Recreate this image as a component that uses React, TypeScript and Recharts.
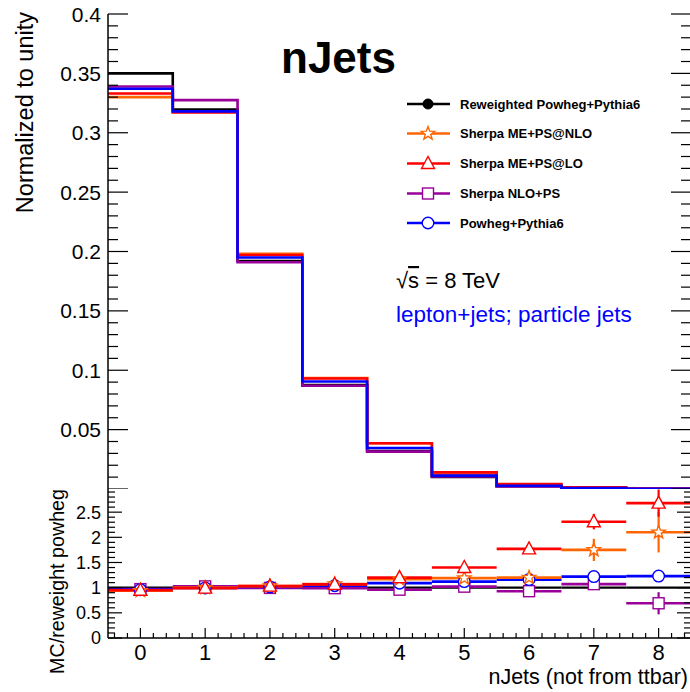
import React from "react";
import { ComposedChart, Line, Scatter, ErrorBar, XAxis, YAxis } from "recharts";

const FONT = "'Liberation Sans', Arial, Helvetica, sans-serif";

const C_REW = "#000000";
const C_NLO = "#ff6600";
const C_LO = "#ff0000";
const C_NLOPS = "#990099";
const C_POW = "#0000ff";

// jet multiplicity bins: centres and edges
const nJets = [0, 1, 2, 3, 4, 5, 6, 7, 8];
const binEdges = [-0.5, 0.5, 1.5, 2.5, 3.5, 4.5, 5.5, 6.5, 7.5, 8.5];
const BIN_HALF = 0.5;

// normalised distributions
const reweighted = [0.35, 0.3195, 0.192, 0.0875, 0.032, 0.0102, 0.0024, 0.0006, 0.00015];
const sherpaMePsNlo = [0.33, 0.318, 0.198, 0.0935, 0.0385, 0.0122, 0.0029, 0.0011, 0.0003];
const sherpaMePsLo = [0.333, 0.317, 0.197, 0.093, 0.0385, 0.014, 0.0042, 0.0014, 0.0004];
const sherpaNloPs = [0.339, 0.3275, 0.191, 0.087, 0.0315, 0.0105, 0.0022, 0.0006, 0.0001];
const powhegPythia = [0.337, 0.318, 0.195, 0.0905, 0.0345, 0.0113, 0.0028, 0.0007, 0.0002];

// MC / reweighted powheg with stat. errors
const ratioMePsNlo = [0.94, 1.0, 1.03, 1.07, 1.17, 1.19, 1.2, 1.75, 2.1];
const errMePsNlo = [0.01, 0.01, 0.01, 0.02, 0.03, 0.05, 0.1, 0.22, 0.4];
const ratioMePsLo = [0.95, 0.99, 1.03, 1.065, 1.2, 1.4, 1.77, 2.31, 2.68];
const errMePsLo = [0.01, 0.01, 0.01, 0.02, 0.04, 0.05, 0.06, 0.15, 0.27];
const ratioNloPs = [0.97, 1.025, 0.995, 0.99, 0.96, 1.02, 0.93, 1.07, 0.69];
const errNloPs = [0.01, 0.01, 0.01, 0.02, 0.03, 0.05, 0.07, 0.1, 0.22];
const ratioPowheg = [0.96, 0.995, 1.015, 1.04, 1.09, 1.12, 1.16, 1.22, 1.23];
const errPowheg = [0.005, 0.005, 0.01, 0.01, 0.02, 0.03, 0.04, 0.05, 0.06];

const histRows = binEdges.map((x, i) => {
  const k = Math.min(i, nJets.length - 1);
  return { x, rew: reweighted[k], nlo: sherpaMePsNlo[k], lo: sherpaMePsLo[k], nlops: sherpaNloPs[k], pow: powhegPythia[k] };
});

const ratioRows = nJets.map((x, i) => ({
  x,
  ex: BIN_HALF,
  one: 1,
  nlo: ratioMePsNlo[i],
  nloErr: errMePsNlo[i],
  lo: ratioMePsLo[i],
  loErr: errMePsLo[i],
  nlops: ratioNloPs[i],
  nlopsErr: errNloPs[i],
  pow: ratioPowheg[i],
  powErr: errPowheg[i],
}));

const X_DOMAIN: [number, number] = [-0.5, 8.5];
const TOP_DOMAIN: [number, number] = [0, 0.4];
const RATIO_DOMAIN: [number, number] = [0, 2.96];

// tick positions (major + minor), ROOT style
const xTicks = Array.from({ length: 45 }, (_, i) => Math.round((-0.4 + 0.2 * i) * 10) / 10);
const yTicksTop = Array.from({ length: 41 }, (_, i) => i / 100);
const yTicksRatio = Array.from({ length: 30 }, (_, i) => i / 10);

type Side = "top" | "bottom" | "left" | "right";

// inward tick mark, longer on major divisions, with optional label
function axisTick(
  side: Side,
  step: number,
  majorLen: number,
  minorLen: number,
  label?: (v: number) => string | null,
  fontSize = 20
) {
  return (props: any) => {
    const x = Number(props.x);
    const y = Number(props.y);
    const v = Number(props.payload.value);
    const major = Math.abs(v / step - Math.round(v / step)) < 1e-6;
    const len = major ? majorLen : minorLen;
    const x2 = side === "left" ? x + len : side === "right" ? x - len : x;
    const y2 = side === "bottom" ? y - len : side === "top" ? y + len : y;
    const text = major && label ? label(v) : null;
    return (
      <g>
        <line x1={x} y1={y} x2={x2} y2={y2} stroke="#000" strokeWidth={1.2} />
        {text !== null && side === "left" && (
          <text x={x - 7} y={y + fontSize * 0.36} textAnchor="end" fontFamily={FONT} fontSize={fontSize} fill="#000">
            {text}
          </text>
        )}
        {text !== null && side === "bottom" && (
          <text x={x} y={y + 22} textAnchor="middle" fontFamily={FONT} fontSize={fontSize} fill="#000">
            {text}
          </text>
        )}
      </g>
    );
  };
}

type MarkerKind = "dot" | "star" | "triangle" | "square" | "circle";

function Marker({ kind, cx, cy, color }: { kind: MarkerKind; cx: number; cy: number; color: string }) {
  const sw = 1.4;
  if (kind === "dot") return <circle cx={cx} cy={cy} r={5} fill={color} stroke={color} />;
  if (kind === "circle") return <circle cx={cx} cy={cy} r={5.8} fill="#fff" stroke={color} strokeWidth={sw} />;
  if (kind === "square")
    return <rect x={cx - 5.5} y={cy - 5.5} width={11} height={11} fill="#fff" stroke={color} strokeWidth={sw} />;
  if (kind === "triangle") {
    const pts = `${cx},${cy - 7} ${cx - 6.5},${cy + 5} ${cx + 6.5},${cy + 5}`;
    return <polygon points={pts} fill="#fff" stroke={color} strokeWidth={sw} />;
  }
  const pts: string[] = [];
  for (let i = 0; i < 10; i++) {
    const r = i % 2 === 0 ? 7 : 2.9;
    const a = -Math.PI / 2 + (i * Math.PI) / 5;
    pts.push(`${cx + r * Math.cos(a)},${cy + r * Math.sin(a)}`);
  }
  return <polygon points={pts.join(" ")} fill="#fff" stroke={color} strokeWidth={sw} />;
}

const series = [
  { key: "rew", name: "Reweighted Powheg+Pythia6", color: C_REW, marker: "dot" as MarkerKind },
  { key: "nlo", name: "Sherpa ME+PS@NLO", color: C_NLO, marker: "star" as MarkerKind },
  { key: "lo", name: "Sherpa ME+PS@LO", color: C_LO, marker: "triangle" as MarkerKind },
  { key: "nlops", name: "Sherpa NLO+PS", color: C_NLOPS, marker: "square" as MarkerKind },
  { key: "pow", name: "Powheg+Pythia6", color: C_POW, marker: "circle" as MarkerKind },
];

// draw order in the ratio pad
const ratioOrder = ["nlops", "pow", "nlo", "lo"];

const fmtTop = (v: number) => (v === 0 ? null : String(Math.round(v * 100) / 100));
const fmtRatio = (v: number) => String(Math.round(v * 10) / 10);
const fmtX = (v: number) => String(Math.round(v));

const axisLine = { stroke: "#000", strokeWidth: 1.5 };
const tickAxis = { type: "number" as const, allowDataOverflow: true, interval: 0 as const, tickSize: 0, tickMargin: 0, tickLine: false, axisLine };

function TopPad() {
  return (
    <ComposedChart width={692} height={489} data={histRows} margin={{ top: 14, right: 0, bottom: 0, left: 0 }}>
      <XAxis dataKey="x" domain={X_DOMAIN} ticks={xTicks} height={0} tick={axisTick("bottom", 1, 12, 6)} {...tickAxis} />
      <XAxis xAxisId="top" orientation="top" dataKey="x" domain={X_DOMAIN} ticks={xTicks} height={0}
        tick={axisTick("top", 1, 12, 6)} {...tickAxis} />
      <YAxis domain={TOP_DOMAIN} ticks={yTicksTop} width={108} tick={axisTick("left", 0.05, 20, 10, fmtTop, 21)} {...tickAxis} />
      <YAxis yAxisId="right" orientation="right" domain={TOP_DOMAIN} ticks={yTicksTop} width={1}
        tick={axisTick("right", 0.05, 20, 10)} {...tickAxis} />
      {series.map((s) => (
        <Line key={s.key} type="stepAfter" dataKey={s.key} stroke={s.color} strokeWidth={2.6} dot={false}
          activeDot={false} isAnimationActive={false}
          xAxisId={s.key === "pow" ? "top" : 0} yAxisId={s.key === "pow" ? "right" : 0} />
      ))}
    </ComposedChart>
  );
}

function RatioPad() {
  return (
    <ComposedChart width={692} height={203} data={ratioRows} margin={{ top: 0, right: 0, bottom: 0, left: 0 }}>
      <XAxis dataKey="x" domain={X_DOMAIN} ticks={xTicks} height={54} tick={axisTick("bottom", 1, 10, 5, fmtX, 22)} {...tickAxis} />
      <XAxis xAxisId="top" orientation="top" dataKey="x" domain={X_DOMAIN} ticks={xTicks} height={0}
        tick={axisTick("top", 1, 7, 4)} {...tickAxis} />
      <YAxis domain={RATIO_DOMAIN} ticks={yTicksRatio} width={108} tick={axisTick("left", 0.5, 14, 7, fmtRatio, 18)} {...tickAxis} />
      <YAxis yAxisId="right" orientation="right" domain={RATIO_DOMAIN} ticks={yTicksRatio} width={1}
        tick={axisTick("right", 0.5, 14, 7)} {...tickAxis} />
      <Scatter dataKey="one" xAxisId="top" yAxisId="right" isAnimationActive={false} shape={() => <g />}>
        <ErrorBar dataKey="ex" direction="x" width={0} stroke={C_REW} strokeWidth={2.4} isAnimationActive={false} />
      </Scatter>
      {ratioOrder.map((k) => {
        const s = series.find((d) => d.key === k)!;
        return (
          <Scatter key={k} dataKey={k} isAnimationActive={false}
            shape={(p: any) => <Marker kind={s.marker} cx={p.cx} cy={p.cy} color={s.color} />}>
            <ErrorBar dataKey="ex" direction="x" width={0} stroke={s.color} strokeWidth={2.6} isAnimationActive={false} />
            <ErrorBar dataKey={`${k}Err`} direction="y" width={0} stroke={s.color} strokeWidth={2.2} isAnimationActive={false} />
          </Scatter>
        );
      })}
    </ComposedChart>
  );
}

function Overlay() {
  const rowY = [104, 133.5, 163.5, 193.5, 223];
  return (
    <svg width={690} height={692} style={{ position: "absolute", left: 0, top: 0, pointerEvents: "none" }}>
      <text x={281} y={73} fontFamily={FONT} fontWeight="bold" fontSize={44} fill="#000">nJets</text>
      <text transform="translate(33,12) rotate(-90)" textAnchor="end" fontFamily={FONT} fontSize={23.5} fill="#000">
        Normalized to unity
      </text>
      <text transform="translate(64,489) rotate(-90)" textAnchor="end" fontFamily={FONT} fontSize={19.7} fill="#000">
        MC/reweight powheg
      </text>
      <text x={688} y={684} textAnchor="end" fontFamily={FONT} fontSize={21.5} fill="#000">
        nJets (not from ttbar)
      </text>
      <text x={396} y={288} fontFamily={FONT} fontSize={22} fill="#000">
        √<tspan style={{ textDecoration: "overline" }}>s</tspan> = 8 TeV
      </text>
      <text x={396} y={322} fontFamily={FONT} fontSize={22.5} fill={C_POW}>
        lepton+jets; particle jets
      </text>
      {series.map((s, i) => (
        <g key={s.key}>
          <line x1={407} x2={450} y1={rowY[i]} y2={rowY[i]} stroke={s.color} strokeWidth={2.6} />
          <Marker kind={s.marker} cx={428} cy={rowY[i]} color={s.color} />
          <text x={460} y={rowY[i] + 4.8} fontFamily={FONT} fontWeight="bold" fontSize={13} fill="#000">
            {s.name}
          </text>
        </g>
      ))}
    </svg>
  );
}

export default function App() {
  return (
    <div style={{ position: "absolute", left: 0, top: 0, width: 690, height: 692, overflow: "hidden", background: "#fff" }}>
      <div style={{ position: "absolute", left: 0, top: 0 }}>
        <TopPad />
      </div>
      <div style={{ position: "absolute", left: 0, top: 489 }}>
        <RatioPad />
      </div>
      <Overlay />
    </div>
  );
}
